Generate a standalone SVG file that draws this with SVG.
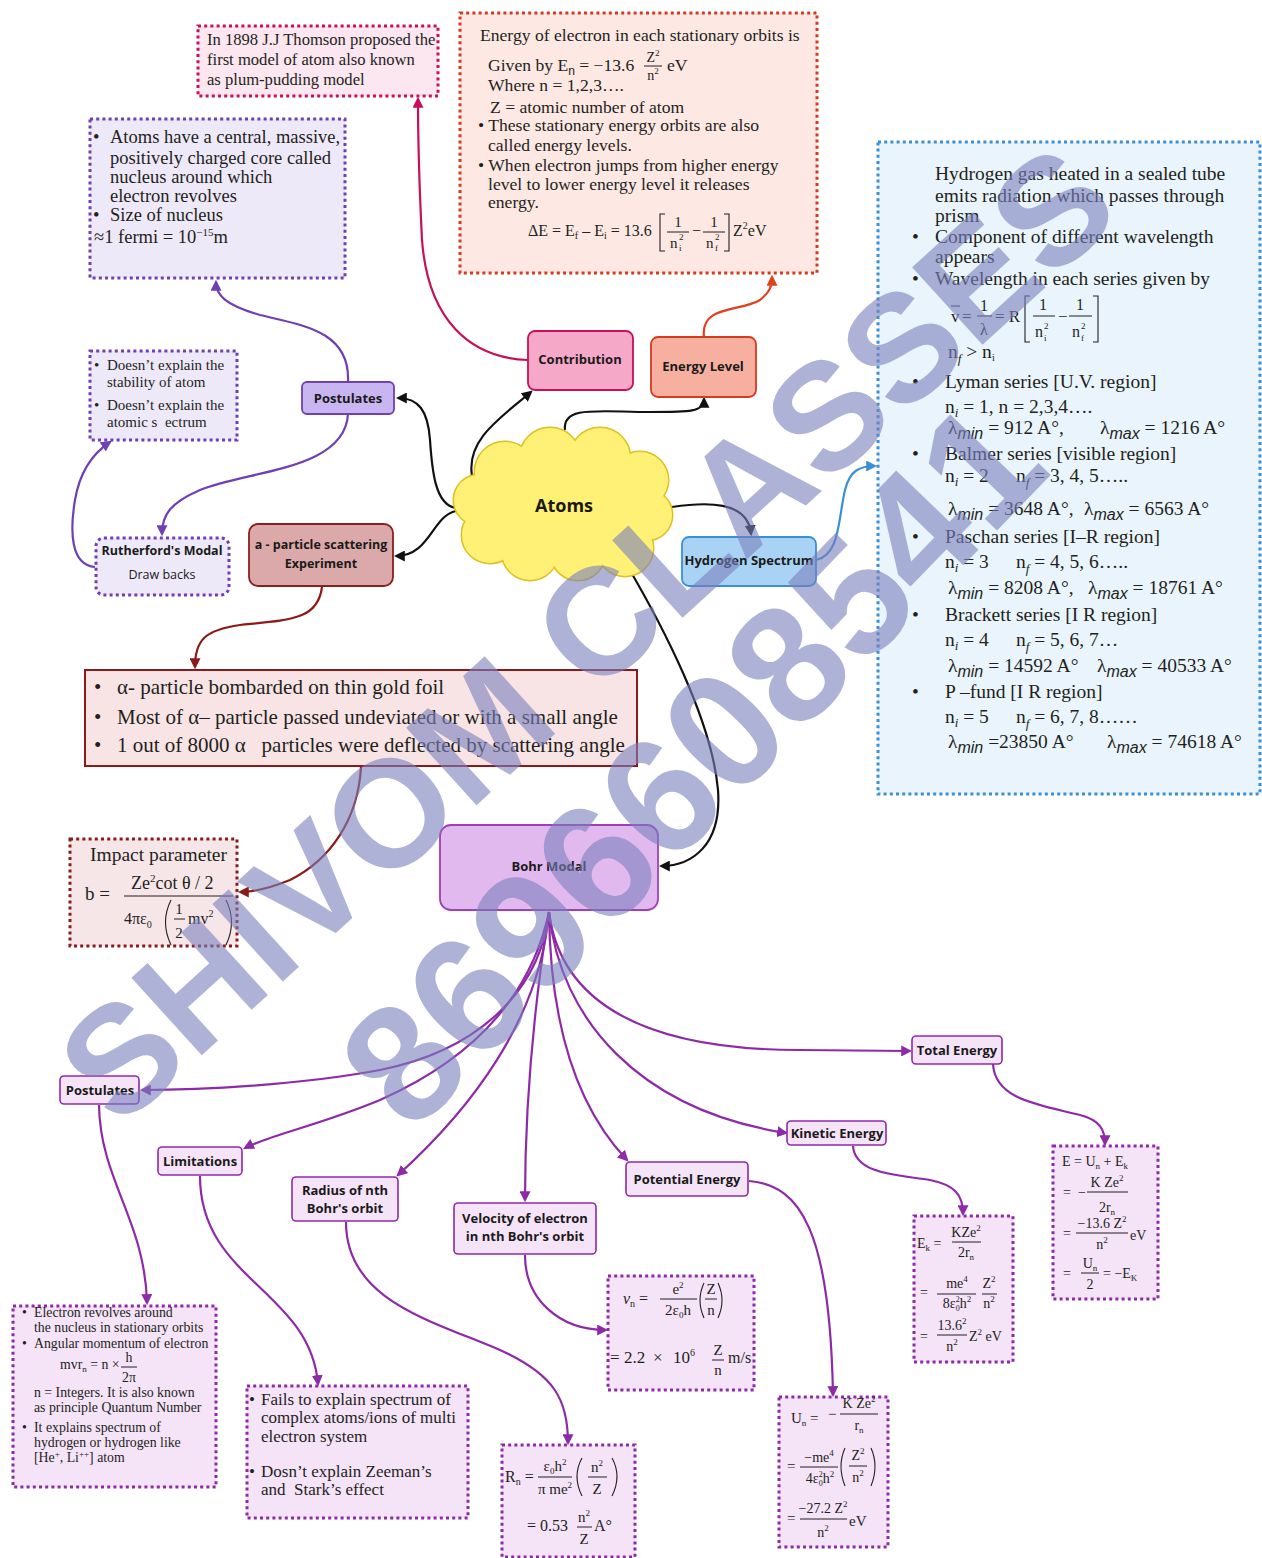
<svg xmlns="http://www.w3.org/2000/svg" width="1262" height="1558" viewBox="0 0 1262 1558">
<style>
.t{font-family:"Liberation Serif","Times New Roman",serif;fill:#231f20}
.m{text-anchor:middle}
.n{font-family:"Open Sans","Liberation Sans",sans-serif;font-weight:700;font-size:13px;fill:#1a1a1a;text-anchor:middle}
.fr{stroke:#231f20;stroke-width:1;fill:none}
.br{stroke:#231f20;stroke-width:1.1;fill:none}
.c{fill:none;stroke-width:2.2}
.dot{stroke-width:3;stroke-dasharray:3 3.2}
.wm{font-family:"Liberation Sans",Arial,sans-serif;font-weight:700;fill:#7b80bd;opacity:0.6;text-anchor:middle}
</style>
<defs>
<marker id="ak" viewBox="0 0 10 10" refX="8" refY="5" markerWidth="5" markerHeight="5" orient="auto"><path d="M0,0 L10,5 L0,10 z" fill="#111"/></marker>
<marker id="acr" viewBox="0 0 10 10" refX="8" refY="5" markerWidth="5" markerHeight="5" orient="auto"><path d="M0,0 L10,5 L0,10 z" fill="#c8105a"/></marker>
<marker id="aor" viewBox="0 0 10 10" refX="8" refY="5" markerWidth="5" markerHeight="5" orient="auto"><path d="M0,0 L10,5 L0,10 z" fill="#e0401e"/></marker>
<marker id="abl" viewBox="0 0 10 10" refX="8" refY="5" markerWidth="5" markerHeight="5" orient="auto"><path d="M0,0 L10,5 L0,10 z" fill="#3a8fd6"/></marker>
<marker id="apu" viewBox="0 0 10 10" refX="8" refY="5" markerWidth="5" markerHeight="5" orient="auto"><path d="M0,0 L10,5 L0,10 z" fill="#6e3fb5"/></marker>
<marker id="adr" viewBox="0 0 10 10" refX="8" refY="5" markerWidth="5" markerHeight="5" orient="auto"><path d="M0,0 L10,5 L0,10 z" fill="#8b1a1a"/></marker>
<marker id="amg" viewBox="0 0 10 10" refX="8" refY="5" markerWidth="5" markerHeight="5" orient="auto"><path d="M0,0 L10,5 L0,10 z" fill="#8e2aa8"/></marker>
</defs>
<rect width="1262" height="1558" fill="#fff"/>

<g id="connectors">
<path class="c" stroke="#111" marker-end="url(#ak)" d="M472,476 C466,440 500,418 531,392"/>
<path class="c" stroke="#111" marker-end="url(#ak)" d="M565,430 C562,405 600,412 650,412 C690,412 704,412 704,399"/>
<path class="c" stroke="#111" marker-end="url(#ak)" d="M456,508 C435,505 432,470 430,440 C428,410 418,398 398,398"/>
<path class="c" stroke="#111" marker-end="url(#ak)" d="M456,511 C432,516 430,556 396,556"/>
<path class="c" stroke="#111" marker-end="url(#ak)" d="M672,507 C705,502 748,500 751,534"/>
<path class="c" stroke="#111" marker-end="url(#ak)" d="M628,567 C662,625 712,720 718,790 C722,845 692,866 661,866"/>
<path class="c" stroke="#c8105a" marker-end="url(#acr)" d="M528,360 C470,358 428,320 422,240 C419,180 418,130 418,99"/>
<path class="c" stroke="#e0401e" marker-end="url(#aor)" d="M704,337 C700,305 740,312 760,300 C770,292 772,286 772,277"/>
<path class="c" stroke="#3a8fd6" marker-end="url(#abl)" d="M816,560 C840,555 838,520 845,490 C850,470 860,466 875,466"/>
<path class="c" stroke="#6e3fb5" marker-end="url(#apu)" d="M348,381 C350,330 300,325 260,315 C225,305 216,295 216,282"/>
<path class="c" stroke="#6e3fb5" marker-end="url(#apu)" d="M348,414 C345,470 250,470 200,490 C170,503 162,515 162,534"/>
<path class="c" stroke="#6e3fb5" marker-end="url(#apu)" d="M95,567 C70,565 70,530 75,500 C80,470 95,452 110,442"/>
<path class="c" stroke="#8b1a1a" marker-end="url(#adr)" d="M322,587 C318,620 290,620 240,625 C205,630 195,640 195,667"/>
<path class="c" stroke="#8b1a1a" marker-end="url(#adr)" d="M361,767 C358,820 330,860 290,880 C265,890 252,892 240,892"/>
<path class="c" stroke="#8e2aa8" marker-end="url(#amg)" d="M549,912 C540,990 480,1050 380,1070 C300,1085 200,1090 142,1090"/>
<path class="c" stroke="#8e2aa8" marker-end="url(#amg)" d="M549,912 C530,1000 470,1060 380,1100 C320,1125 270,1135 245,1148"/>
<path class="c" stroke="#8e2aa8" marker-end="url(#amg)" d="M549,912 C540,1020 470,1110 398,1175"/>
<path class="c" stroke="#8e2aa8" marker-end="url(#amg)" d="M549,912 C535,1000 525,1100 525,1200"/>
<path class="c" stroke="#8e2aa8" marker-end="url(#amg)" d="M549,912 C550,1010 570,1100 627,1160"/>
<path class="c" stroke="#8e2aa8" marker-end="url(#amg)" d="M549,912 C560,1020 640,1110 786,1133"/>
<path class="c" stroke="#8e2aa8" marker-end="url(#amg)" d="M549,912 C560,1000 640,1050 800,1050 L910,1051"/>
<path class="c" stroke="#8e2aa8" marker-end="url(#amg)" d="M99,1105 C100,1180 145,1220 147,1303"/>
<path class="c" stroke="#8e2aa8" marker-end="url(#amg)" d="M200,1176 C200,1280 310,1290 318,1384"/>
<path class="c" stroke="#8e2aa8" marker-end="url(#amg)" d="M346,1222 C346,1300 430,1320 500,1350 C555,1375 568,1400 568,1443"/>
<path class="c" stroke="#8e2aa8" marker-end="url(#amg)" d="M525,1255 C525,1300 560,1330 606,1330"/>
<path class="c" stroke="#8e2aa8" marker-end="url(#amg)" d="M749,1181 C800,1185 830,1230 833,1395"/>
<path class="c" stroke="#8e2aa8" marker-end="url(#amg)" d="M853,1146 C855,1175 900,1175 930,1180 C955,1185 963,1195 963,1214"/>
<path class="c" stroke="#8e2aa8" marker-end="url(#amg)" d="M993,1064 C995,1100 1040,1105 1080,1115 C1100,1120 1105,1130 1105,1144"/>
</g>

<g id="thomson">
<rect x="198" y="26" width="240" height="70" fill="#fce6f0" stroke="#c8105a" class="dot"/>
<text class="t" font-size="16.6" x="207" y="45">In 1898 J.J Thomson proposed the</text>
<text class="t" font-size="16.6" x="207" y="65">first model of atom also known</text>
<text class="t" font-size="16.6" x="207" y="85">as plum-pudding model</text>
</g>

<g id="energy-box">
<rect x="460" y="13" width="357" height="260" fill="#fde8e4" stroke="#d43a1e" class="dot"/>
<g class="t" font-size="17.6">
<text x="480" y="41">Energy of electron in each stationary orbits is</text>
<text x="488" y="71">Given by E<tspan font-family="Liberation Sans,sans-serif" font-size="12" dy="4">n</tspan><tspan dy="-4"> = −13.6</tspan></text>
<text x="667" y="71">eV</text>
<text x="488" y="91">Where n = 1,2,3….</text>
<text x="490" y="113">Z = atomic number of atom</text>
<text x="478" y="131">• These stationary energy orbits are also</text>
<text x="488" y="151">called energy levels.</text>
<text x="478" y="171">• When electron jumps from higher energy</text>
<text x="488" y="190">level to lower energy level it releases</text>
<text x="488" y="208">energy.</text>
</g>
<text class="t m" font-size="14" x="653" y="62">Z<tspan font-size="9" dy="-6">2</tspan></text>
<line class="fr" x1="644" y1="66" x2="662" y2="66"/>
<text class="t m" font-size="14" x="653" y="80">n<tspan font-size="9" dy="-6">2</tspan></text>
<text class="t" font-size="16" x="528" y="236">ΔE = E<tspan font-size="10" dy="3">f</tspan><tspan dy="-3"> – E</tspan><tspan font-size="10" dy="3">i</tspan><tspan dy="-3"> = 13.6</tspan></text>
<path class="br" d="M665,214 H660 V251 H665"/>
<text class="t m" font-size="15" x="678" y="227">1</text>
<line class="fr" x1="667" y1="232" x2="689" y2="232"/>
<text class="t" font-size="15" x="670" y="248">n</text>
<text class="t" font-size="9" x="679" y="240">2</text>
<text class="t" font-size="9" x="679" y="251">i</text>
<text class="t" font-size="16" x="692" y="236">−</text>
<text class="t m" font-size="15" x="714" y="227">1</text>
<line class="fr" x1="703" y1="232" x2="725" y2="232"/>
<text class="t" font-size="15" x="706" y="248">n</text>
<text class="t" font-size="9" x="715" y="240">2</text>
<text class="t" font-size="9" x="715" y="251">f</text>
<path class="br" d="M724,214 H729 V251 H724"/>
<text class="t" font-size="16" x="733" y="236">Z<tspan font-size="10" dy="-7">2</tspan><tspan dy="7">eV</tspan></text>
</g>

<g id="hydrogen-box">
<rect x="878" y="142" width="382" height="652" fill="#e9f4fc" stroke="#3a8fd6" class="dot"/>
<g class="t" font-size="19.5">
<text x="935" y="180">Hydrogen gas heated in a sealed tube</text>
<text x="935" y="202">emits radiation which passes through</text>
<text x="935" y="222">prism</text>
<text x="912" y="243">•</text><text x="935" y="243">Component of different wavelength</text>
<text x="935" y="263">appears</text>
<text x="912" y="285">•</text><text x="935" y="285">Wavelength in each series given by</text>
<text x="948" y="358">n<tspan font-size="13" font-style="italic" dy="5">f</tspan><tspan dy="-5"> &gt; n</tspan><tspan font-size="10" dy="3">i</tspan></text>
<text x="912" y="388">•</text><text x="945" y="388">Lyman series [U.V. region]</text>
<text x="945" y="413">n<tspan font-size="13" font-style="italic" dy="4">i</tspan><tspan dy="-4"> = 1, n  = 2,3,4….</tspan></text>
<text x="948" y="434">λ<tspan font-family="Liberation Sans,sans-serif" font-style="italic" font-size="16" dy="5">min</tspan><tspan dy="-5"> = 912 A°,</tspan></text>
<text x="1100" y="434">λ<tspan font-family="Liberation Sans,sans-serif" font-style="italic" font-size="16" dy="5">max</tspan><tspan dy="-5"> = 1216 A°</tspan></text>
<text x="912" y="460">•</text><text x="945" y="460">Balmer series [visible region]</text>
<text x="945" y="482">n<tspan font-size="13" font-style="italic" dy="4">i</tspan><tspan dy="-4"> = 2</tspan></text>
<text x="1016" y="482">n<tspan font-size="13" font-style="italic" dy="5">f</tspan><tspan dy="-5"> = 3, 4, 5…..</tspan></text>
<text x="948" y="515">λ<tspan font-family="Liberation Sans,sans-serif" font-style="italic" font-size="16" dy="5">min</tspan><tspan dy="-5"> = 3648 A°,</tspan></text>
<text x="1084" y="515">λ<tspan font-family="Liberation Sans,sans-serif" font-style="italic" font-size="16" dy="5">max</tspan><tspan dy="-5"> = 6563 A°</tspan></text>
<text x="912" y="543">•</text><text x="945" y="543">Paschan series [I–R region]</text>
<text x="945" y="568">n<tspan font-size="13" font-style="italic" dy="4">i</tspan><tspan dy="-4"> = 3</tspan></text>
<text x="1016" y="568">n<tspan font-size="13" font-style="italic" dy="5">f</tspan><tspan dy="-5"> = 4, 5, 6…..</tspan></text>
<text x="948" y="594">λ<tspan font-family="Liberation Sans,sans-serif" font-style="italic" font-size="16" dy="5">min</tspan><tspan dy="-5"> = 8208 A°,</tspan></text>
<text x="1088" y="594">λ<tspan font-family="Liberation Sans,sans-serif" font-style="italic" font-size="16" dy="5">max</tspan><tspan dy="-5"> = 18761 A°</tspan></text>
<text x="912" y="621">•</text><text x="945" y="621">Brackett series [I R region]</text>
<text x="945" y="646">n<tspan font-size="13" font-style="italic" dy="4">i</tspan><tspan dy="-4"> = 4</tspan></text>
<text x="1016" y="646">n<tspan font-size="13" font-style="italic" dy="5">f</tspan><tspan dy="-5"> = 5, 6, 7…</tspan></text>
<text x="948" y="672">λ<tspan font-family="Liberation Sans,sans-serif" font-style="italic" font-size="16" dy="5">min</tspan><tspan dy="-5"> = 14592 A°</tspan></text>
<text x="1097" y="672">λ<tspan font-family="Liberation Sans,sans-serif" font-style="italic" font-size="16" dy="5">max</tspan><tspan dy="-5"> = 40533 A°</tspan></text>
<text x="912" y="698">•</text><text x="945" y="698">P –fund [I R region]</text>
<text x="945" y="723">n<tspan font-size="13" font-style="italic" dy="4">i</tspan><tspan dy="-4"> = 5</tspan></text>
<text x="1016" y="723">n<tspan font-size="13" font-style="italic" dy="5">f</tspan><tspan dy="-5"> = 6, 7, 8……</tspan></text>
<text x="948" y="748">λ<tspan font-family="Liberation Sans,sans-serif" font-style="italic" font-size="16" dy="5">min</tspan><tspan dy="-5"> =23850 A°</tspan></text>
<text x="1107" y="748">λ<tspan font-family="Liberation Sans,sans-serif" font-style="italic" font-size="16" dy="5">max</tspan><tspan dy="-5"> = 74618 A°</tspan></text>
</g>
<text class="t" font-size="17" x="951" y="322">v</text>
<line class="fr" x1="951" y1="306" x2="960" y2="306"/>
<text class="t" font-size="17" x="962" y="322">=</text>
<text class="t m" font-size="16" x="984" y="311">1</text>
<line class="fr" x1="977" y1="316" x2="992" y2="316"/>
<text class="t m" font-size="16" x="984" y="335">λ</text>
<text class="t" font-size="17" x="995" y="322">= R</text>
<path class="br" d="M1030,296 H1025 V342 H1030"/>
<text class="t m" font-size="16" x="1043" y="310">1</text>
<line class="fr" x1="1033" y1="316" x2="1055" y2="316"/>
<text class="t" font-size="16" x="1035" y="337">n</text>
<text class="t" font-size="9" x="1044" y="329">2</text>
<text class="t" font-size="9" x="1044" y="341">i</text>
<text class="t" font-size="17" x="1058" y="322">−</text>
<text class="t m" font-size="16" x="1080" y="310">1</text>
<line class="fr" x1="1069" y1="316" x2="1092" y2="316"/>
<text class="t" font-size="16" x="1072" y="337">n</text>
<text class="t" font-size="9" x="1081" y="329">2</text>
<text class="t" font-size="9" x="1081" y="341">f</text>
<path class="br" d="M1093,296 H1098 V342 H1093"/>
</g>

<g id="nucleus-box">
<rect x="90" y="119" width="255" height="159" fill="#eee9f9" stroke="#6e3fb5" class="dot"/>
<g class="t" font-size="18.5">
<text x="93" y="143">•</text><text x="110" y="143">Atoms have a central, massive,</text>
<text x="110" y="164">positively charged core called</text>
<text x="110" y="183">nucleus around which</text>
<text x="110" y="202">electron revolves</text>
<text x="93" y="221">•</text><text x="110" y="221">Size of nucleus</text>
<text x="94" y="243">≈1 fermi = 10<tspan font-size="11" dy="-7">−15</tspan><tspan dy="7">m</tspan></text>
</g>
</g>

<g id="drawbacks-box">
<rect x="90" y="351" width="147" height="89" fill="#eee9f9" stroke="#6e3fb5" class="dot"/>
<g class="t" font-size="15">
<text x="94" y="370">•</text><text x="107" y="370">Doesn’t explain the</text>
<text x="107" y="387">stability of atom</text>
<text x="94" y="410">•</text><text x="107" y="410">Doesn’t explain the</text>
<text x="107" y="427">atomic s&#160; ectrum</text>
</g>
</g>

<g id="rutherford">
<rect x="96" y="538" width="133" height="57" rx="8" fill="#eee9f9" stroke="#6e3fb5" class="dot"/>
<text class="n" style="font-size:12.5px" x="162" y="555">Rutherford's Modal</text>
<text class="n" style="font-size:12.5px;font-weight:400" x="162" y="579">Draw backs</text>
</g>

<g id="postulates-top">
<rect x="302" y="382" width="92" height="32" rx="5" fill="#c9b6f0" stroke="#6e3fb5" stroke-width="1.8"/>
<text class="n" x="348" y="403">Postulates</text>
</g>

<g id="alpha-node">
<rect x="249" y="524" width="144" height="62" rx="9" fill="#dba9a9" stroke="#8b1f1f" stroke-width="1.8"/>
<text class="n" style="font-size:12.5px" x="321" y="549">a - particle scattering</text>
<text class="n" style="font-size:12.5px" x="321" y="568">Experiment</text>
</g>

<g id="contribution">
<rect x="528" y="331" width="105" height="59" rx="7" fill="#f6a8c9" stroke="#c8105a" stroke-width="1.8"/>
<text class="n" x="580" y="364">Contribution</text>
</g>

<g id="energy-level">
<rect x="651" y="337" width="105" height="60" rx="7" fill="#f7b0a0" stroke="#d43a1e" stroke-width="1.8"/>
<text class="n" x="703" y="371">Energy Level</text>
</g>

<g id="atoms">
<g stroke="#e0c020" stroke-width="3" fill="#fff176">
<circle cx="505" cy="472" r="30"/><circle cx="550" cy="458" r="30"/><circle cx="600" cy="458" r="30"/>
<circle cx="640" cy="480" r="28"/><circle cx="647" cy="515" r="25"/><circle cx="625" cy="548" r="28"/>
<circle cx="578" cy="553" r="27"/><circle cx="530" cy="552" r="28"/><circle cx="490" cy="535" r="28"/>
<circle cx="479" cy="500" r="25"/>
</g>
<g fill="#fff176">
<circle cx="505" cy="472" r="30"/><circle cx="550" cy="458" r="30"/><circle cx="600" cy="458" r="30"/>
<circle cx="640" cy="480" r="28"/><circle cx="647" cy="515" r="25"/><circle cx="625" cy="548" r="28"/>
<circle cx="578" cy="553" r="27"/><circle cx="530" cy="552" r="28"/><circle cx="490" cy="535" r="28"/>
<circle cx="479" cy="500" r="25"/>
<ellipse cx="563" cy="505" rx="85" ry="55"/>
</g>
<text class="n" style="font-size:18px" x="564" y="512">Atoms</text>
</g>

<g id="hydrogen-spectrum">
<rect x="682" y="537" width="134" height="49" rx="7" fill="#a9d3f5" stroke="#3a8fd6" stroke-width="1.8"/>
<text class="n" x="749" y="565">Hydrogen Spectrum</text>
</g>

<g id="alpha-box">
<rect x="85" y="670" width="552" height="96" fill="#f8e4e4" stroke="#8b1a1a" stroke-width="2"/>
<g class="t" font-size="21">
<text x="94" y="694">•</text><text x="117" y="694">α- particle bombarded on thin gold foil</text>
<text x="94" y="724">•</text><text x="117" y="724">Most of α– particle passed undeviated or with a small angle</text>
<text x="94" y="752">•</text><text x="117" y="752">1 out of 8000 α&#160;&#160; particles were deflected by scattering angle</text>
</g>
</g>

<g id="impact-box">
<rect x="70" y="839" width="167" height="107" fill="#f7e6e8" stroke="#8b1a1a" class="dot"/>
<text class="t" font-size="19.5" x="90" y="861">Impact parameter</text>
<text class="t" font-size="19" x="85" y="900">b =</text>
<text class="t" font-size="18" x="131" y="889">Ze<tspan font-size="11" dy="-7">2</tspan><tspan dy="7">cot θ / 2</tspan></text>
<line class="fr" x1="124" y1="896" x2="233" y2="896"/>
<text class="t" font-size="16" x="124" y="924">4πε<tspan font-size="10" dy="4">0</tspan></text>
<path class="br" d="M171,900 Q160,922 171,945"/>
<text class="t m" font-size="15" x="179" y="914">1</text>
<line class="fr" x1="174" y1="919" x2="185" y2="919"/>
<text class="t m" font-size="15" x="179" y="938">2</text>
<text class="t" font-size="16" x="188" y="924">mv<tspan font-size="10" dy="-7">2</tspan></text>
<path class="br" d="M226,900 Q237,922 226,945"/>
</g>

<g id="bohr-modal">
<rect x="440" y="825" width="218" height="85" rx="11" fill="#e2b9ee" stroke="#a13fb8" stroke-width="1.8"/>
<text class="n" x="549" y="871">Bohr Modal</text>
</g>

<g id="postulates-bottom">
<rect x="60" y="1076" width="79" height="28" rx="4" fill="#f5e3f8" stroke="#8e2aa8" stroke-width="1.6"/>
<text class="n" x="100" y="1095">Postulates</text>
</g>
<g id="limitations">
<rect x="158" y="1147" width="84" height="28" rx="4" fill="#f5e3f8" stroke="#8e2aa8" stroke-width="1.6"/>
<text class="n" x="200" y="1166">Limitations</text>
</g>
<g id="radius">
<rect x="292" y="1177" width="106" height="44" rx="4" fill="#f5e3f8" stroke="#8e2aa8" stroke-width="1.6"/>
<text class="n" x="345" y="1195">Radius of nth</text>
<text class="n" x="345" y="1213">Bohr's orbit</text>
</g>
<g id="velocity">
<rect x="454" y="1203" width="142" height="51" rx="4" fill="#f5e3f8" stroke="#8e2aa8" stroke-width="1.6"/>
<text class="n" x="525" y="1223">Velocity of electron</text>
<text class="n" x="525" y="1241">in nth Bohr's orbit</text>
</g>
<g id="potential">
<rect x="626" y="1162" width="122" height="34" rx="4" fill="#f5e3f8" stroke="#8e2aa8" stroke-width="1.6"/>
<text class="n" x="687" y="1184">Potential Energy</text>
</g>
<g id="kinetic">
<rect x="787" y="1121" width="99" height="24" rx="4" fill="#f5e3f8" stroke="#8e2aa8" stroke-width="1.6"/>
<text class="n" x="837" y="1138">Kinetic Energy</text>
</g>
<g id="total">
<rect x="912" y="1036" width="90" height="28" rx="4" fill="#f5e3f8" stroke="#8e2aa8" stroke-width="1.6"/>
<text class="n" x="957" y="1055">Total Energy</text>
</g>

<g id="postulates-box">
<rect x="13" y="1306" width="203" height="181" fill="#f5e3f8" stroke="#8e2aa8" class="dot"/>
<g class="t" font-size="13.8">
<text x="22" y="1317">•</text><text x="34" y="1317">Electron revolves around</text>
<text x="34" y="1332">the nucleus in stationary orbits</text>
<text x="22" y="1348">•</text><text x="34" y="1348">Angular momentum of electron</text>
<text x="60" y="1369">mvr<tspan font-size="9" dy="3">n</tspan><tspan dy="-3"> = n ×</tspan></text>
<text x="34" y="1397">n = Integers. It is also known</text>
<text x="34" y="1412">as principle Quantum Number</text>
<text x="22" y="1432">•</text><text x="34" y="1432">It explains spectrum of</text>
<text x="34" y="1447">hydrogen or hydrogen like</text>
<text x="34" y="1462">[He<tspan font-size="9" dy="-5">+</tspan><tspan dy="5">, Li</tspan><tspan font-size="9" dy="-5">++</tspan><tspan dy="5">] atom</tspan></text>
</g>
<text class="t m" font-size="13.8" x="129" y="1362">h</text>
<line class="fr" x1="121" y1="1367" x2="137" y2="1367"/>
<text class="t m" font-size="13.8" x="129" y="1382">2π</text>
</g>

<g id="limitations-box">
<rect x="247" y="1386" width="221" height="132" fill="#f5e3f8" stroke="#8e2aa8" class="dot"/>
<g class="t" font-size="17">
<text x="249" y="1405">•</text><text x="261" y="1405">Fails to explain spectrum of</text>
<text x="261" y="1423">complex atoms/ions of multi</text>
<text x="261" y="1442">electron system</text>
<text x="249" y="1477">•</text><text x="261" y="1477">Dosn’t explain Zeeman’s</text>
<text x="261" y="1495">and&#160; Stark’s effect</text>
</g>
</g>

<g id="radius-box">
<rect x="502" y="1445" width="133" height="112" fill="#f5e3f8" stroke="#8e2aa8" class="dot"/>
<text class="t" font-size="16" x="505" y="1482">R<tspan font-size="10" dy="3">n</tspan><tspan dy="-3"> =</tspan></text>
<text class="t m" font-size="15" x="555" y="1471">ε<tspan font-size="9" dy="3">0</tspan><tspan dy="-3">h</tspan><tspan font-size="9" dy="-6">2</tspan></text>
<line class="fr" x1="538" y1="1477" x2="572" y2="1477"/>
<text class="t m" font-size="15" x="555" y="1494">π me<tspan font-size="9" dy="-6">2</tspan></text>
<path class="br" d="M582,1458 Q572,1476 582,1496"/>
<text class="t m" font-size="15" x="597" y="1472">n<tspan font-size="9" dy="-6">2</tspan></text>
<line class="fr" x1="588" y1="1477" x2="607" y2="1477"/>
<text class="t m" font-size="15" x="597" y="1494">Z</text>
<path class="br" d="M612,1458 Q622,1476 612,1496"/>
<text class="t" font-size="16" x="527" y="1531">= 0.53</text>
<text class="t m" font-size="15" x="584" y="1522">n<tspan font-size="9" dy="-6">2</tspan></text>
<line class="fr" x1="577" y1="1527" x2="592" y2="1527"/>
<text class="t m" font-size="15" x="584" y="1544">Z</text>
<text class="t" font-size="16" x="594" y="1531">A°</text>
</g>

<g id="velocity-box">
<rect x="608" y="1276" width="146" height="114" fill="#f5e3f8" stroke="#8e2aa8" class="dot"/>
<text class="t" font-size="16" x="623" y="1304"><tspan font-style="italic">v</tspan><tspan font-size="10" dy="3">n</tspan><tspan dy="-3"> =</tspan></text>
<text class="t m" font-size="15" x="678" y="1294">e<tspan font-size="9" dy="-6">2</tspan></text>
<line class="fr" x1="660" y1="1299" x2="697" y2="1299"/>
<text class="t m" font-size="15" x="678" y="1315">2ε<tspan font-size="9" dy="3">0</tspan><tspan dy="-3">h</tspan></text>
<path class="br" d="M704,1283 Q696,1300 704,1318"/>
<text class="t m" font-size="15" x="711" y="1294">Z</text>
<line class="fr" x1="705" y1="1299" x2="717" y2="1299"/>
<text class="t m" font-size="15" x="711" y="1315">n</text>
<path class="br" d="M718,1283 Q726,1300 718,1318"/>
<text class="t" font-size="17" x="610" y="1363">=</text>
<text class="t" font-size="17" x="624" y="1363">2.2</text>
<text class="t" font-size="17" x="653" y="1363">×</text>
<text class="t" font-size="17" x="673" y="1363">10<tspan font-size="10" dy="-7">6</tspan></text>
<text class="t m" font-size="15" x="718" y="1355">Z</text>
<line class="fr" x1="712" y1="1360" x2="724" y2="1360"/>
<text class="t m" font-size="15" x="718" y="1375">n</text>
<text class="t" font-size="16" x="728" y="1363">m/s</text>
</g>

<g id="potential-box">
<rect x="779" y="1397" width="109" height="150" fill="#f5e3f8" stroke="#8e2aa8" class="dot"/>
<text class="t" font-size="15" x="791" y="1423">U<tspan font-size="9" dy="3">n</tspan><tspan dy="-3"> =</tspan></text>
<text class="t" font-size="15" x="828" y="1419">−</text>
<text class="t m" font-size="14" x="859" y="1408">K Ze<tspan font-size="9" dy="-6">2</tspan></text>
<line class="fr" x1="840" y1="1414" x2="878" y2="1414"/>
<text class="t m" font-size="14" x="859" y="1430">r<tspan font-size="9" dy="3">n</tspan></text>
<text class="t" font-size="15" x="787" y="1471">=</text>
<text class="t m" font-size="14" x="819" y="1462">−me<tspan font-size="9" dy="-6">4</tspan></text>
<line class="fr" x1="800" y1="1467" x2="838" y2="1467"/>
<text class="t m" font-size="14" x="820" y="1483">4ε<tspan font-size="8" dy="-6">2</tspan><tspan font-size="8" dx="-4" dy="9">0</tspan><tspan dy="-3">h</tspan><tspan font-size="9" dy="-6">2</tspan></text>
<path class="br" d="M845,1448 Q837,1466 845,1486"/>
<text class="t m" font-size="14" x="858" y="1460">Z<tspan font-size="9" dy="-6">2</tspan></text>
<line class="fr" x1="849" y1="1466" x2="867" y2="1466"/>
<text class="t m" font-size="14" x="858" y="1482">n<tspan font-size="9" dy="-6">2</tspan></text>
<path class="br" d="M871,1448 Q879,1466 871,1486"/>
<text class="t" font-size="15" x="787" y="1523">=</text>
<text class="t m" font-size="14" x="823" y="1513">−27.2 Z<tspan font-size="9" dy="-6">2</tspan></text>
<line class="fr" x1="800" y1="1519" x2="847" y2="1519"/>
<text class="t m" font-size="14" x="823" y="1537">n<tspan font-size="9" dy="-6">2</tspan></text>
<text class="t" font-size="15" x="849" y="1526">eV</text>
</g>

<g id="kinetic-box">
<rect x="914" y="1216" width="99" height="146" fill="#f5e3f8" stroke="#8e2aa8" class="dot"/>
<text class="t" font-size="14" x="917" y="1248">E<tspan font-size="9" dy="3">k</tspan><tspan dy="-3"> =</tspan></text>
<text class="t m" font-size="14" x="966" y="1237">KZe<tspan font-size="9" dy="-6">2</tspan></text>
<line class="fr" x1="952" y1="1242" x2="981" y2="1242"/>
<text class="t m" font-size="14" x="966" y="1257">2r<tspan font-size="9" dy="3">n</tspan></text>
<text class="t" font-size="14" x="920" y="1297">=</text>
<text class="t m" font-size="14" x="957" y="1288">me<tspan font-size="9" dy="-6">4</tspan></text>
<line class="fr" x1="937" y1="1294" x2="976" y2="1294"/>
<text class="t m" font-size="14" x="957" y="1308">8ε<tspan font-size="8" dy="-6">2</tspan><tspan font-size="8" dx="-4" dy="9">0</tspan><tspan dy="-3">h</tspan><tspan font-size="9" dy="-6">2</tspan></text>
<text class="t m" font-size="14" x="989" y="1288">Z<tspan font-size="9" dy="-6">2</tspan></text>
<line class="fr" x1="982" y1="1294" x2="997" y2="1294"/>
<text class="t m" font-size="14" x="989" y="1308">n<tspan font-size="9" dy="-6">2</tspan></text>
<text class="t" font-size="14" x="920" y="1341">=</text>
<text class="t m" font-size="14" x="952" y="1330">13.6<tspan font-size="9" dy="-6">2</tspan></text>
<line class="fr" x1="937" y1="1335" x2="967" y2="1335"/>
<text class="t m" font-size="14" x="952" y="1351">n<tspan font-size="9" dy="-6">2</tspan></text>
<text class="t" font-size="14" x="969" y="1341">Z<tspan font-size="9" dy="-6">2</tspan><tspan dy="6"> eV</tspan></text>
</g>

<g id="total-box">
<rect x="1053" y="1146" width="105" height="153" fill="#f5e3f8" stroke="#8e2aa8" class="dot"/>
<text class="t" font-size="14" x="1062" y="1166">E = U<tspan font-size="9" dy="3">n</tspan><tspan dy="-3"> + E</tspan><tspan font-size="9" dy="3">k</tspan></text>
<text class="t" font-size="14" x="1063" y="1197">=&#160; −</text>
<text class="t m" font-size="14" x="1107" y="1187">K Ze<tspan font-size="9" dy="-6">2</tspan></text>
<line class="fr" x1="1087" y1="1192" x2="1128" y2="1192"/>
<text class="t m" font-size="14" x="1107" y="1212">2r<tspan font-size="9" dy="3">n</tspan></text>
<text class="t" font-size="14" x="1063" y="1238">=</text>
<text class="t m" font-size="14" x="1102" y="1228">−13.6 Z<tspan font-size="9" dy="-6">2</tspan></text>
<line class="fr" x1="1076" y1="1233" x2="1128" y2="1233"/>
<text class="t m" font-size="14" x="1102" y="1249">n<tspan font-size="9" dy="-6">2</tspan></text>
<text class="t" font-size="14" x="1130" y="1240">eV</text>
<text class="t" font-size="14" x="1063" y="1278">=</text>
<text class="t m" font-size="14" x="1090" y="1268">U<tspan font-size="9" dy="3">n</tspan></text>
<line class="fr" x1="1081" y1="1273" x2="1099" y2="1273"/>
<text class="t m" font-size="14" x="1090" y="1289">2</text>
<text class="t" font-size="14" x="1103" y="1278">= −E<tspan font-size="9" dy="3">K</tspan></text>
</g>

<g id="watermark">
<text class="wm" font-size="152" transform="translate(585,632) rotate(-42.3)" y="55">SHIVOM CLASSES</text>
<text class="wm" font-size="166" transform="translate(690,762) rotate(-46)" y="60">8696608541</text>
</g>
</svg>
